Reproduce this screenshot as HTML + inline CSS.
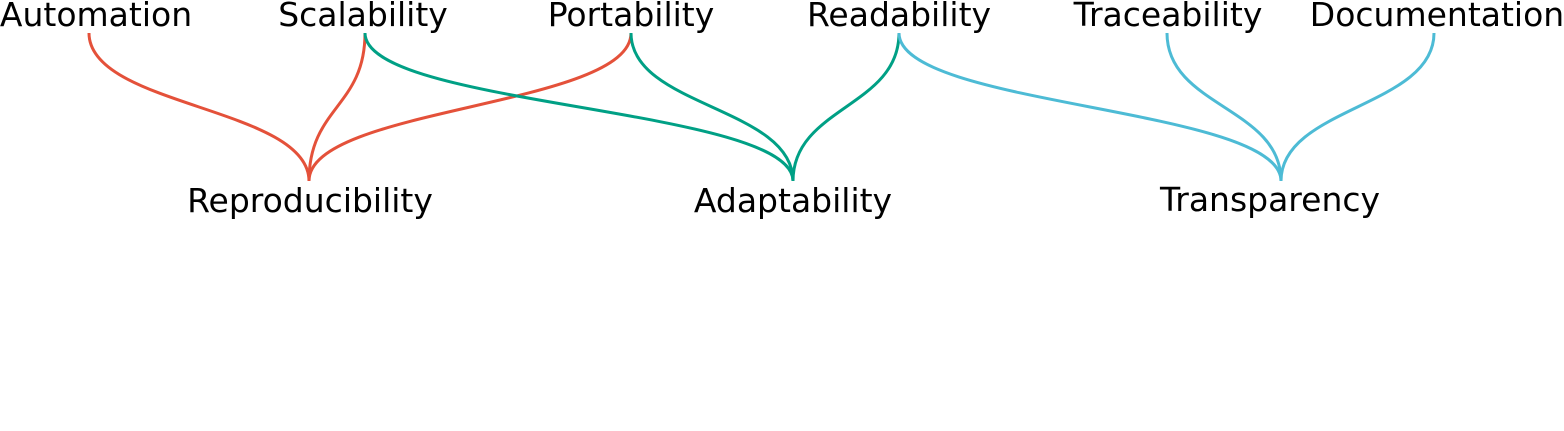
<!DOCTYPE html>
<html><head><meta charset="utf-8"><style>
html,body{margin:0;padding:0;background:#fff;}
svg{display:block}
text{font-family:"DejaVu Sans","Liberation Sans",sans-serif;font-size:33px;fill:#000;text-anchor:middle}
</style></head><body>
<svg width="1564" height="431" viewBox="0 0 1564 431" xmlns="http://www.w3.org/2000/svg">
<g fill="none" stroke-width="3">
<g stroke="#e4513a">
<path d="M89,33 C89,107 309,107 309,181"/>
<path d="M365,33 C365,107 309,107 309,181"/>
<path d="M631,33 C631,107 309,107 309,181"/>
</g>
<g stroke="#00a085">
<path d="M365,33 C365,107 793,107 793,181"/>
<path d="M631,33 C631,107 793,107 793,181"/>
<path d="M899,33 C899,107 793,107 793,181"/>
</g>
<g stroke="#4dbbd5">
<path d="M899,33 C899,107 1281,107 1281,181"/>
<path d="M1167,33 C1167,107 1281,107 1281,181"/>
<path d="M1434,33 C1434,107 1281,107 1281,181"/>
</g>
</g>
<text x="96" y="26">Automation</text>
<text x="363" y="26">Scalability</text>
<text x="631" y="26">Portability</text>
<text x="899" y="26">Readability</text>
<text x="1168" y="26">Traceability</text>
<text x="1437" y="26">Documentation</text>
<text x="310" y="212">Reproducibility</text>
<text x="793" y="212">Adaptability</text>
<text x="1270" y="211">Transparency</text>
</svg>
</body></html>
